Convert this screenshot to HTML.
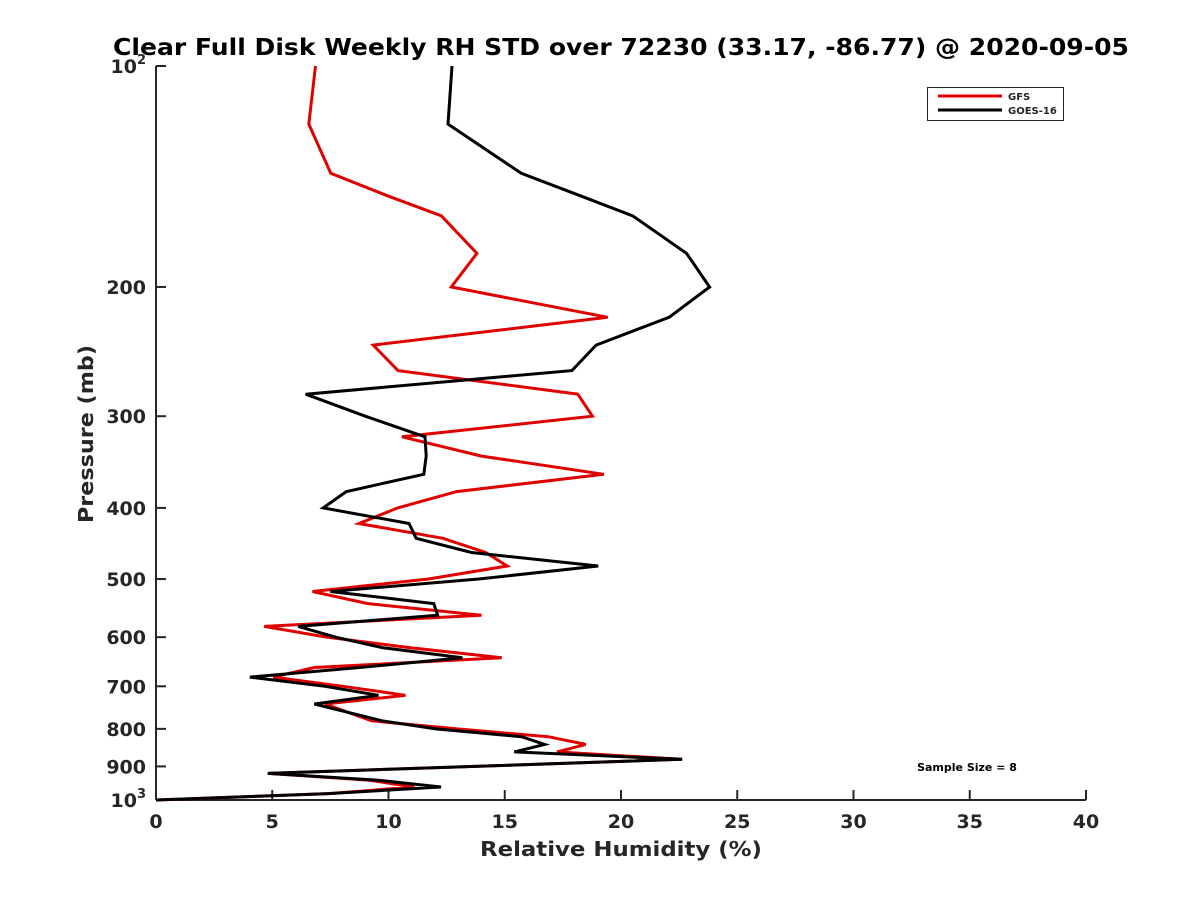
<!DOCTYPE html>
<html><head><meta charset="utf-8"><style>
body{margin:0;background:#fff;}
svg text{font-family:"DejaVu Sans","Liberation Sans",sans-serif;font-weight:bold;fill:#262626;}
</style></head><body>
<svg id="chart" width="1200" height="900" xmlns="http://www.w3.org/2000/svg">
<rect width="1200" height="900" fill="#fff"/>
<text x="113" y="55" textLength="1016" lengthAdjust="spacingAndGlyphs" font-size="23" style="fill:#000">Clear Full Disk Weekly RH STD over 72230 (33.17, -86.77) @ 2020-09-05</text>
<g id="axes"></g>
<g id="series"></g>
<g>
<rect x="927.5" y="87.5" width="136" height="33" fill="#fff" stroke="#262626" stroke-width="1"/>
<line x1="938" y1="96" x2="1002" y2="96" stroke="#e00000" stroke-width="3"/>
<text x="1008" y="100" font-size="10">GFS</text>
<line x1="938" y1="110" x2="1002" y2="110" stroke="#000" stroke-width="3"/>
<text x="1008" y="114" font-size="10">GOES-16</text>
</g>
<text x="967" y="771" text-anchor="middle" font-size="11" style="fill:#000">Sample Size = 8</text>
<text x="480" y="856" textLength="282" lengthAdjust="spacingAndGlyphs" font-size="20">Relative Humidity (%)</text>
<text transform="translate(93,523) rotate(-90)" textLength="178" lengthAdjust="spacingAndGlyphs" font-size="20">Pressure (mb)</text>
</svg>
<script>
const pressures=[100,120,140,150,160,180,200,220,240,260,280,300,320,340,360,380,400,420,440,460,480,500,520,540,560,580,600,620,640,660,680,700,720,740,780,800,820,840,860,880,920,940,960,980,1000];
const gfsValues=[6.86,6.57,7.52,9.9,12.27,13.8,12.7,19.43,9.34,10.41,18.14,18.77,10.58,14.0,19.26,12.93,10.4,8.73,12.34,14.18,15.1,11.72,6.73,9.11,14.0,4.66,7.35,10.9,14.87,6.81,5.04,8.04,10.73,7.27,9.27,12.95,16.87,18.48,17.25,22.63,4.81,9.2,11.11,7.42,0];
const goesValues=[12.73,12.56,15.71,18.2,20.5,22.82,23.81,22.07,18.93,17.89,6.44,9.0,11.57,11.62,11.52,8.18,7.19,10.88,11.19,13.57,19.02,13.88,7.5,11.95,12.11,6.12,7.73,9.73,13.18,8.76,4.04,7.27,9.57,6.81,9.73,12.03,15.72,16.72,15.41,22.63,4.81,9.57,12.26,7.42,0];
const xTicks=[0,5,10,15,20,25,30,35,40];
const yTicks=[100,200,300,400,500,600,700,800,900,1000];

const NS='http://www.w3.org/2000/svg';
const X0=156,X1=1086,Y0=66,Y1=800;
function xs(v){return X0+(v-0)/(40-0)*(X1-X0);}
function ys(p){return Y0+(Math.log10(p)-2)*(Y1-Y0);}
function mk(tag,attrs,parent){const e=document.createElementNS(NS,tag);for(const k in attrs)e.setAttribute(k,attrs[k]);parent.appendChild(e);return e;}
const axes=document.getElementById('axes');
let l=mk('line',{x1:X0,y1:Y0,x2:X0,y2:Y1,stroke:'#262626','stroke-width':2},axes);


l=mk('line',{x1:X0,y1:Y1,x2:X1,y2:Y1,stroke:'#262626','stroke-width':2},axes);


xTicks.forEach(v=>{
 const t=mk('line',{x1:xs(v),y1:Y1,x2:xs(v),y2:Y1-10,stroke:'#262626','stroke-width':2},axes);
 
 
 const tx=mk('text',{x:xs(v),y:Y1+28,'text-anchor':'middle','font-size':19},axes);
 tx.textContent=v;
 
 
});
yTicks.forEach(p=>{
 const t=mk('line',{x1:X0,y1:ys(p),x2:X0+10,y2:ys(p),stroke:'#262626','stroke-width':2},axes);
 
 
 const tx=mk('text',{x:X0-10,y:ys(p)+7,'text-anchor':'end','font-size':19},axes);
 if(p===100||p===1000){
   tx.textContent='10';
   const s=mk('tspan',{dy:-9,'font-size':13},tx);
   s.textContent=p===100?'2':'3';
 } else tx.textContent=p;
 
 
});
const sg=document.getElementById('series');
function draw(vals,color,name){
 const d=vals.map((v,i)=>(i?'L':'M')+xs(v).toFixed(1)+','+ys(pressures[i]).toFixed(1)).join(' ');
 const p=mk('path',{d:d,fill:'none',stroke:color,'stroke-width':3,'stroke-linejoin':'miter'},sg);
 
 
}
draw(gfsValues,'#e00000','gfs-line');
draw(goesValues,'#000','goes-16-line');
</script>
</body></html>
